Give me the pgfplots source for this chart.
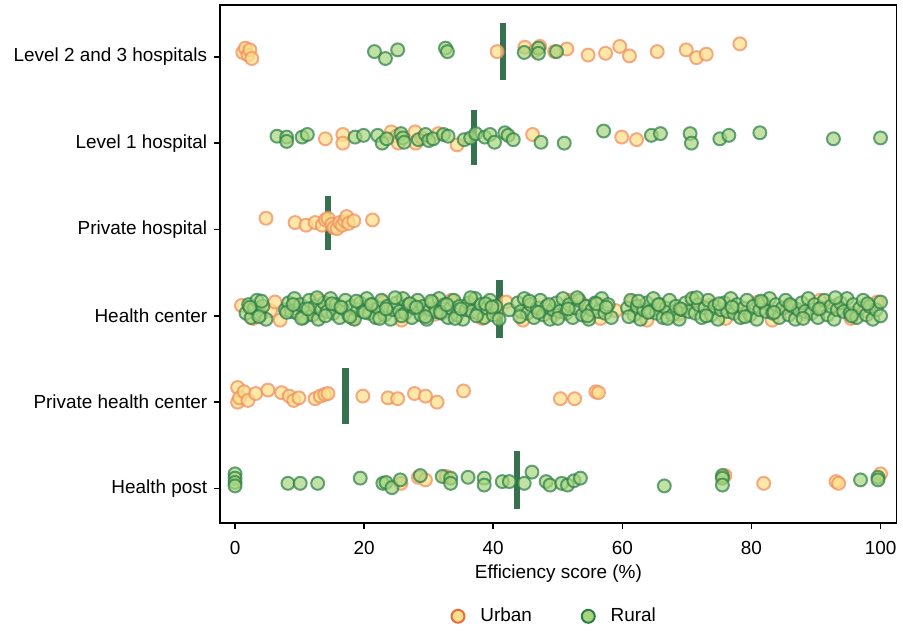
\documentclass[border=0pt]{standalone}
\usepackage{pgfplots}
\pgfplotsset{compat=1.18}
\usepackage{fontspec}
\setmainfont{Liberation Sans}

\definecolor{urbEdge}{HTML}{EE6A3A}
\definecolor{urbFill}{HTML}{FDE08C}
\definecolor{urbEdgeP}{HTML}{F19062}
\definecolor{rurEdge}{HTML}{2A7D46}
\definecolor{rurFill}{HTML}{A6D57E}
\definecolor{medc}{HTML}{2B6A47}

\pgfplotsset{
  urban/.style={only marks, mark=*, mark size=3.25pt, forget plot,
    mark options={draw=urbEdgeP, fill=urbFill, line width=1pt, opacity=0.75}},
  rural/.style={only marks, mark=*, mark size=3.25pt, forget plot,
    mark options={draw=rurEdge, fill=rurFill, line width=1pt, opacity=0.7}},
  median/.style={medc, line width=3.3pt, forget plot, opacity=0.95},
}
\newcommand{\lblfont}{\fontsize{9.5}{11}\selectfont}

\begin{document}
\begin{tikzpicture}
\begin{axis}[
  scale only axis, width=339.5pt, height=260pt,
  xmin=-2.3, xmax=102.5, ymin=-0.40, ymax=5.60,
  xtick={0,20,...,100}, ytick={0,...,5},
  yticklabels={Health post, Private health center, Health center,
    Private hospital, Level 1 hospital, Level 2 and 3 hospitals},
  tick align=outside, xtick pos=bottom, ytick pos=left,
  major tick length=3pt,
  tick style={black, line width=0.75pt},
  axis line style={black, line width=0.75pt},
  xlabel={Efficiency score (\%)},
  ticklabel style={font=\lblfont},
  xticklabel style={yshift=-2.5pt},
  label style={font=\lblfont},
  xlabel style={yshift=1.5pt},
  /pgf/number format/assume math mode=true,
  legend style={at={(0.496,-0.180)}, anchor=center, draw=none, font=\lblfont,
    legend columns=2,
    /tikz/every odd column/.append style={column sep=6pt},
    /tikz/every even column/.append style={column sep=23pt}},
]
% ---- Level 2 and 3 hospitals (y=5)
\addplot[urban] coordinates {(1.2,5.05) (1.6,5.10) (2.0,5.02) (2.3,5.08) (2.6,4.98)
  (40.6,5.06) (44.9,5.11) (46.5,5.07) (47.2,5.12) (49.5,5.06) (51.4,5.09)
  (54.7,5.02) (57.4,5.04) (59.6,5.12) (61.1,5.01) (65.4,5.06) (69.9,5.08)
  (71.5,4.99) (73.0,5.03) (78.2,5.15)};
\addplot[rural] coordinates {(21.6,5.06) (23.3,4.98) (25.2,5.08) (32.6,5.10) (32.9,5.06)
  (44.8,5.05) (47.0,5.10) (47.0,5.04) (49.8,5.06)};
% ---- Level 1 hospital (y=4)
\addplot[urban] coordinates {(14.0,4.05) (16.7,4.10) (16.7,4.00) (24.2,4.13) (25.0,4.08)
  (25.3,4.00) (27.9,4.13) (28.0,4.00) (29.0,4.06) (31.5,4.11) (34.4,3.98)
  (46.1,4.10) (59.9,4.07) (62.2,4.04)};
\addplot[rural] coordinates {(6.5,4.08) (8.0,4.07) (8.0,4.02) (10.4,4.07) (11.2,4.10)
  (18.6,4.07) (19.9,4.09) (22.1,4.09) (22.8,4.00) (23.5,4.05) (25.7,4.11)
  (26.0,4.06) (26.2,4.01) (28.4,4.04) (29.5,4.10) (30.0,4.03) (30.7,4.05)
  (32.3,4.10) (33.0,4.08) (35.5,4.04) (36.5,4.06) (37.3,4.11) (38.7,4.07)
  (39.5,4.10) (40.2,4.01) (41.8,4.12) (42.3,4.09) (43.1,4.04) (47.4,4.01)
  (51.0,4.00) (57.1,4.14) (64.5,4.09) (65.9,4.11) (70.5,4.11) (70.7,4.00)
  (75.1,4.05) (76.5,4.09) (81.3,4.12) (92.7,4.05) (100,4.06)};
% ---- Private hospital (y=3)
\addplot[urban] coordinates {(4.8,3.13) (9.3,3.08) (11.0,3.05) (12.4,3.08) (13.5,3.05)
  (14.0,3.11) (14.4,3.13) (15.0,3.06) (15.3,3.02) (15.8,3.01) (16.2,3.08)
  (16.6,3.05) (17.0,3.10) (17.3,3.15) (17.6,3.07) (18.4,3.10) (21.3,3.11)};
% ---- Health center (y=2)
\addplot[urban] coordinates {
  (1.0,2.12) (2.8,1.97) (5.5,2.06) (6.2,2.16) (7.0,1.95) (9.0,2.09) (11.5,2.02) (13.0,2.18)
  (15.5,2.12) (18.2,1.97) (20.6,2.06) (23.0,2.16) (25.8,1.95) (28.6,2.09) (31.0,2.02) (33.5,2.18)
  (36.0,2.12) (38.3,1.97) (40.5,2.06) (42.0,2.16) (44.6,1.95) (47.1,2.09) (49.5,2.02) (52.0,2.18)
  (54.2,2.12) (56.6,1.97) (59.0,2.06) (61.5,2.16) (63.8,1.95) (66.2,2.09) (68.8,2.02) (71.0,2.18)
  (73.5,2.12) (76.0,1.97) (78.6,2.06) (81.0,2.16) (83.2,1.95) (85.9,2.09) (88.4,2.02) (90.6,2.18)
  (93.0,2.12) (95.4,1.97) (97.8,2.06) (99.5,2.16)};
\addplot[rural] coordinates {
  (1.7,2.03) (2.1,2.13) (2.5,1.98) (3.0,2.09) (3.4,2.18) (3.9,2.01) (4.3,2.11) (4.8,1.96) (7.8,2.07) (8.3,2.15) (8.7,2.05) (9.2,2.20)
  (9.6,2.03) (10.1,2.13) (10.6,1.98) (11.0,2.09) (11.5,2.18) (12.0,2.01) (12.4,2.11) (12.9,1.96) (13.4,2.07) (13.8,2.15) (14.3,2.05) (14.8,2.20)
  (15.2,2.03) (15.7,2.13) (16.2,1.98) (16.6,2.09) (17.1,2.18) (17.6,2.01) (18.0,2.11) (18.5,1.96) (19.0,2.07) (19.4,2.15) (19.9,2.05) (20.4,2.20)
  (20.8,2.03) (21.3,2.13) (21.8,1.98) (22.2,2.09) (22.7,2.18) (23.2,2.01) (23.6,2.11) (24.1,1.96) (24.6,2.07) (25.0,2.15) (25.5,2.05) (26.0,2.20)
  (26.4,2.03) (26.9,2.13) (27.4,1.98) (27.8,2.09) (28.3,2.18) (28.8,2.01) (29.2,2.11) (29.7,1.96) (30.2,2.07) (30.6,2.15) (31.1,2.05) (31.6,2.20)
  (32.0,2.03) (32.5,2.13) (33.0,1.98) (33.4,2.09) (33.9,2.18) (34.4,2.01) (34.8,2.11) (35.3,1.96) (35.8,2.07) (36.2,2.15) (36.7,2.05) (37.2,2.20)
  (37.6,2.03) (38.1,2.13) (38.6,1.98) (39.0,2.09) (39.5,2.18) (40.0,2.01) (40.4,2.11) (40.9,1.96) (42.5,2.07) (43.8,2.15) (44.3,2.05) (44.8,2.20)
  (45.3,2.03) (45.8,2.13) (46.3,1.98) (46.8,2.09) (47.3,2.18) (47.8,2.01) (48.3,2.11) (48.8,1.96) (49.3,2.07) (49.8,2.15) (50.3,2.05) (50.8,2.20)
  (51.3,2.03) (51.8,2.13) (52.3,1.98) (52.8,2.09) (53.3,2.18) (53.8,2.01) (54.3,2.11) (54.8,1.96) (55.3,2.07) (55.8,2.15) (56.3,2.05) (56.8,2.20)
  (57.3,2.03) (57.8,2.13) (58.3,1.98) (60.8,2.09) (61.3,2.18) (61.8,2.01) (62.3,2.11) (62.8,1.96) (63.3,2.07) (63.8,2.15) (64.3,2.05) (64.8,2.20)
  (65.3,2.03) (65.8,2.13) (66.3,1.98) (66.8,2.09) (67.3,2.18) (67.8,2.01) (68.3,2.11) (68.8,1.96) (69.3,2.07) (69.8,2.15) (70.3,2.05) (70.8,2.20)
  (71.3,2.03) (71.8,2.13) (72.3,1.98) (72.8,2.09) (73.3,2.18) (73.8,2.01) (74.3,2.11) (74.8,1.96) (75.3,2.07) (75.8,2.15) (76.3,2.05) (76.8,2.20)
  (77.3,2.03) (77.8,2.13) (78.3,1.98) (78.8,2.09) (79.3,2.18) (79.8,2.01) (80.3,2.11) (80.8,1.96) (81.3,2.07) (81.8,2.15) (82.3,2.05) (82.8,2.20)
  (83.3,2.03) (83.8,2.13) (84.3,1.98) (84.8,2.09) (85.3,2.18) (85.8,2.01) (86.3,2.11) (86.8,1.96) (87.3,2.07) (87.8,2.15) (88.3,2.05) (88.8,2.20)
  (89.3,2.03) (89.8,2.13) (90.3,1.98) (90.8,2.09) (91.3,2.18) (91.8,2.01) (92.3,2.11) (92.8,1.96) (93.3,2.07) (93.8,2.15) (94.3,2.05) (94.8,2.20)
  (95.3,2.03) (95.8,2.13) (96.3,1.98) (96.8,2.09) (97.3,2.18) (97.8,2.01) (98.3,2.11) (98.8,1.96) (99.3,2.07) (100,2.16) (100,2.00)};
\addplot[rural] coordinates {
  (2.3,2.10) (3.7,1.99) (4.1,2.17) (8.0,2.04) (9.0,2.13) (10.3,1.97) (11.3,2.08) (12.7,2.21) (14.0,2.00) (15.0,2.14)
  (16.4,2.10) (17.8,1.99) (18.8,2.17) (20.1,2.04) (21.1,2.13) (22.4,1.97) (23.4,2.08) (24.8,2.21) (25.8,2.00) (27.1,2.14)
  (28.1,2.10) (29.5,1.99) (30.4,2.17) (31.8,2.04) (32.8,2.13) (34.1,1.97) (35.0,2.08) (36.5,2.21) (37.4,2.00) (38.8,2.14)
  (39.8,2.10) (44.1,1.99) (45.6,2.17) (47.0,2.04) (48.6,2.13) (50.0,1.97) (51.6,2.08) (53.0,2.21) (54.6,2.00) (56.0,2.14)
  (57.5,2.10) (61.0,1.99) (62.5,2.17) (64.0,2.04) (65.6,2.13) (67.0,1.97) (69.0,2.08) (71.5,2.21) (73.0,2.00) (75.0,2.14)
  (77.0,2.10) (79.0,1.99) (81.5,2.17) (83.5,2.04) (86.0,2.13) (88.0,1.97) (90.5,2.08) (93.0,2.21) (95.5,2.00) (98.0,2.14)};
% ---- Private health center (y=1)
\addplot[urban] coordinates {(0.4,1.17) (0.4,1.00) (0.7,1.05) (1.4,1.12) (2.0,1.02)
  (3.2,1.10) (5.1,1.14) (7.2,1.11) (8.4,1.07) (9.1,1.02) (9.9,1.05) (12.4,1.04)
  (13.2,1.07) (13.9,1.09) (14.4,1.10) (19.8,1.07) (23.7,1.05) (25.2,1.04)
  (27.8,1.10) (29.5,1.07) (31.3,1.00) (35.4,1.13) (50.4,1.04) (52.6,1.04)
  (55.9,1.12) (56.3,1.11)};
% ---- Health post (y=0)
\addplot[urban] coordinates {(25.7,0.06) (28.4,0.13) (29.5,0.10) (32.7,0.14)
  (75.9,0.15) (81.9,0.06) (93.1,0.08) (93.5,0.06) (100,0.17)};
\addplot[rural] coordinates {(0,0.17) (0,0.12) (0,0.07) (0,0.03) (8.2,0.06) (10.1,0.06)
  (12.8,0.06) (19.4,0.12) (22.9,0.06) (23.4,0.07) (24.3,0.01) (25.6,0.10)
  (28.7,0.15) (32.1,0.14) (33.4,0.12) (33.4,0.06) (36.1,0.13) (38.6,0.12)
  (38.6,0.04) (41.4,0.08) (42.5,0.08) (44.8,0.06) (46.0,0.19) (48.2,0.08)
  (48.8,0.04) (50.6,0.06) (51.5,0.04) (52.5,0.09) (53.5,0.12) (66.5,0.03)
  (75.5,0.15) (75.5,0.12) (75.5,0.04) (96.9,0.10) (99.6,0.13) (99.6,0.10)};
% ---- medians
\addplot[median] coordinates {(41.5,4.73) (41.5,5.39)};
\addplot[median] coordinates {(37.0,3.75) (37.0,4.38)};
\addplot[median] coordinates {(14.4,2.76) (14.4,3.39)};
\addplot[median] coordinates {(41.0,1.74) (41.0,2.42)};
\addplot[median] coordinates {(17.1,0.75) (17.1,1.40)};
\addplot[median] coordinates {(43.7,-0.24) (43.7,0.43)};
% ---- legend
\addlegendimage{only marks, mark=*, mark size=3.25pt,
  mark options={draw=urbEdge, fill=urbFill, line width=1pt}}
\addlegendentry{Urban}
\addlegendimage{only marks, mark=*, mark size=3.25pt,
  mark options={draw=rurEdge, fill=rurFill, line width=1pt}}
\addlegendentry{Rural}
\end{axis}
\path ([xshift=-110.5pt,yshift=-51.5pt]current axis.south west);
\path ([xshift=1.5pt,yshift=2.5pt]current axis.north east);
\end{tikzpicture}
\end{document}
